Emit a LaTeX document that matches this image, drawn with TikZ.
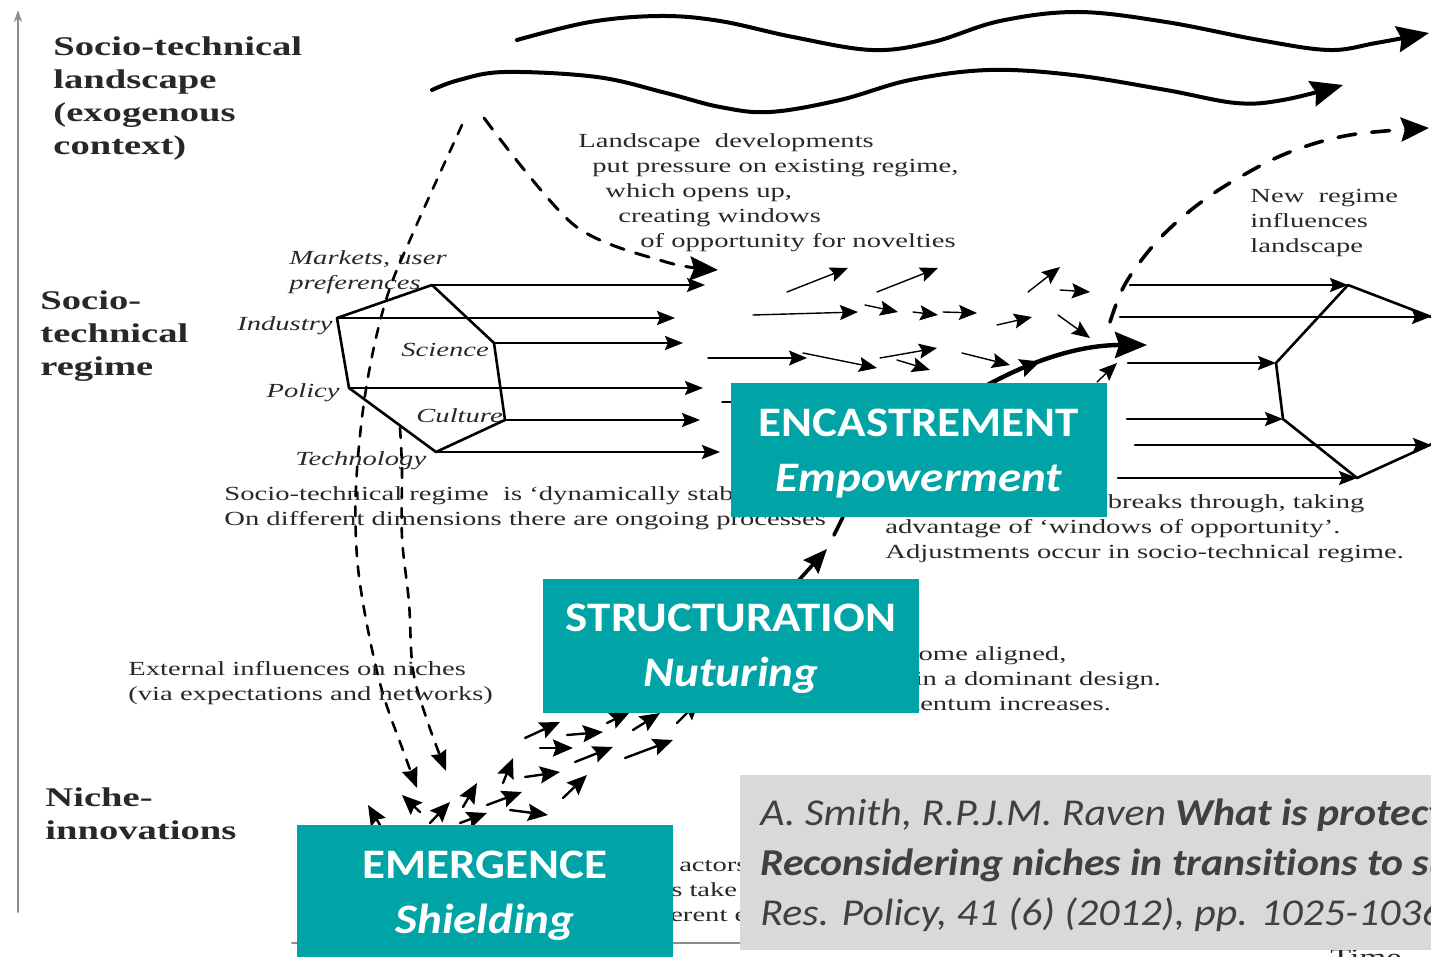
\documentclass[tikz,border=0pt]{standalone}
\usepackage{fontspec}
\setmainfont{Liberation Serif}
\newfontfamily\figfont[FakeStretch=1.43]{Liberation Serif}
\newfontfamily\boxfont[FakeStretch=1.12,Ligatures=NoCommon]{Carlito}
\newfontfamily\citefont[FakeStretch=1.1,Ligatures=NoCommon]{Carlito}
\usetikzlibrary{arrows.meta,decorations.markings}

\definecolor{boxteal}{RGB}{0,164,166}
\definecolor{citegrey}{RGB}{217,217,217}
\definecolor{citetext}{RGB}{64,64,64}
\definecolor{figink}{RGB}{40,40,40}

\begin{document}
\begin{tikzpicture}[x=0.5pt, y=-0.5pt, line cap=round, line join=round,
  figtext/.style={inner sep=0pt, text=figink, align=left,
    font=\figfont\fontsize{10}{12.5}\selectfont},
  figitalic/.style={figtext, font=\figfont\itshape\fontsize{10}{12.5}\selectfont},
  levellabel/.style={inner sep=0pt, text=figink, align=left, anchor=north west,
    font=\figfont\bfseries\fontsize{13.5}{16.5}\selectfont},
  tealbox/.style={fill=boxteal, text=white, inner sep=0pt, align=center,
    minimum width=188pt, minimum height=67pt, text depth=0pt,
    font=\boxfont\bfseries\fontsize{21}{27.5}\selectfont},
  citebox/.style={fill=citegrey, text=citetext, inner xsep=10pt, align=left,
    minimum height=87.5pt, anchor=west, text depth=0pt,
    font=\citefont\fontsize{19}{25}\selectfont},
  axisline/.style={draw=black!45, line width=1pt},
  landwave/.style={line width=2pt, -{Stealth[length=16pt,width=13pt,inset=2pt]}},
  bigdash/.style={line width=1.5pt, dash pattern=on 7pt off 6pt,
    -{Stealth[length=14pt,width=12pt,inset=2pt]}},
  nichedash/.style={line width=1.3pt, dash pattern=on 5pt off 5pt,
    -{Stealth[length=10pt,width=8pt,inset=1pt]}},
  risedash/.style={line width=1.8pt, dash pattern=on 9pt off 8pt,
    -{Stealth[length=14pt,width=12pt,inset=2pt]}},
  regarrow/.style={line width=1.3pt, -{Stealth[length=9pt,width=7pt,inset=1.5pt]}},
  hexside/.style={line width=1.3pt},
  thinarrow/.style={line width=0.7pt, -{Stealth[length=9pt,width=7.5pt,inset=1.5pt]}},
  nichearrow/.style={line width=1.2pt, -{Stealth[length=10pt,width=8.5pt,inset=1.5pt]}},
]

% ---------------------------
% Frame of the picture
% ---------------------------
\useasboundingbox (0,0) rectangle (1431,957);
\clip (0,0) rectangle (1431,957);

% ---------------------------
% Axes
% ---------------------------
\coordinate (ybot) at (18,912);
\coordinate (ytop) at (18,10);
\draw[axisline, -{Stealth[length=6pt,width=4pt]}] (ybot) -- (ytop);

\coordinate (xbot) at (292,943);
\coordinate (xend) at (1000,943);
\draw[axisline] (xbot) -- (xend);

\node[figtext, anchor=base west, font=\figfont\fontsize{12}{14}\selectfont] (timelab) at (1330,965) {Time};

% ---------------------------
% Level labels on the left
% ---------------------------
\node[levellabel] (landlab) at (53,36) {Socio-technical\\landscape\\(exogenous\\context)};
\node[levellabel] (reglab) at (40,290) {Socio-\\technical\\regime};
\node[levellabel] (nichelab) at (45,787) {Niche-\\innovations};

% ---------------------------
% Landscape waves
% ---------------------------
\draw[landwave] plot[smooth, tension=0.6] coordinates {(517,40) (590,22) (660,16) (720,21) (793,37) (872,50) (933,42) (1000,21) (1078,12) (1166,22) (1259,40) (1329,50) (1376,43) (1429,33)};
\draw[landwave] plot[smooth, tension=0.6] coordinates {(432,90) (459,80) (505,72) (597,77) (666,93) (720,107) (770,112) (840,100) (910,80) (989,70) (1073,75) (1166,90) (1236,103) (1283,100) (1343,85)};

% landscape pressure on the regime
\draw[bigdash] plot[smooth, tension=0.5] coordinates {(484,118) (574,225) (666,262) (718,270)};

\node[figtext, anchor=west] (presstxt) at (578,193) {Landscape\ \ developments\\
  \hspace*{7pt}put pressure on existing regime,\\
  \hspace*{13.5pt}which opens up,\\
  \hspace*{20pt}creating windows\\
  \hspace*{31pt}of opportunity for novelties};

% ---------------------------
% Existing regime (left hexagon)
% ---------------------------
\coordinate (mark) at (432,285);
\coordinate (indu) at (337,318);
\coordinate (scie) at (494,343);
\coordinate (poli) at (349,388);
\coordinate (cult) at (505,420);
\coordinate (tech) at (436,452);
\draw[hexside] (mark) -- (indu) -- (poli) -- (tech) -- (cult) -- (scie) -- cycle;

\coordinate (markend) at (705,285);
\coordinate (induend) at (675,318);
\coordinate (scieend) at (683,343);
\coordinate (poliend) at (703,388);
\coordinate (cultend) at (700,420);
\coordinate (techend) at (720,452);
\draw[regarrow] (mark) -- (markend);
\draw[regarrow] (indu) -- (induend);
\draw[regarrow] (scie) -- (scieend);
\draw[regarrow] (poli) -- (poliend);
\draw[regarrow] (cult) -- (cultend);
\draw[regarrow] (tech) -- (techend);

\node[figitalic, anchor=west] (marklab) at (289,272) {Markets, user\\preferences};
\node[figitalic, anchor=east] (indulab) at (333,326) {Industry};
\node[figitalic, anchor=west] (scielab) at (401,350) {Science};
\node[figitalic, anchor=east] (polilab) at (340,393) {Policy};
\node[figitalic, anchor=west] (cultlab) at (416,416) {Culture};
\node[figitalic, anchor=west] (techlab) at (295,461) {Technology};

\node[figtext, anchor=west] (stabtxt) at (224,508) {Socio-technical regime\ \ is ‘dynamically stable’.\\On different dimensions there are ongoing processes};

% ---------------------------
% External influences down to the niches
% ---------------------------
\draw[nichedash] plot[smooth, tension=0.6] coordinates {(462,125) (413,233) (386,300) (367,383) (357,470) (356,540) (363,603) (381,687) (404,753) (417,788)};
\draw[nichedash] plot[smooth, tension=0.6] coordinates {(400,428) (402,470) (402,537) (409,603) (413,670) (427,720) (446,771)};

\node[figtext, anchor=west] (exttxt) at (128,683) {External influences on niches\\(via expectations and networks)};

% ---------------------------
% Small arrows between the regimes
% ---------------------------
\draw[thinarrow] (787,292) -- (848,268);
\draw[thinarrow] (877,292) -- (938,268);
\draw[thinarrow] (1028,292) -- (1060,267);
\draw[thinarrow] (1060,290) -- (1090,292);
\draw[thinarrow] (753,315) -- (858,312);
\draw[thinarrow] (865,305) -- (898,312);
\draw[thinarrow] (913,312) -- (938,315);
\draw[thinarrow] (943,312) -- (977,313);
\draw[thinarrow] (997,325) -- (1032,317);
\draw[thinarrow] (1058,315) -- (1090,338);
\draw[thinarrow] (708,358) -- (807,358);
\draw[thinarrow] (803,353) -- (877,368);
\draw[thinarrow] (880,358) -- (937,348);
\draw[thinarrow] (897,360) -- (930,370);
\draw[thinarrow] (962,353) -- (1010,365);
\draw[thinarrow] (1097,382) -- (1117,363);
\draw[line width=0.7pt] (722,402) -- (745,402);

% ---------------------------
% Niche arrows
% ---------------------------
\draw[nichearrow] (380,825) -- (368,805);
\draw[nichearrow] (420,812) -- (402,795);
\draw[nichearrow] (430,823) -- (450,802);
\draw[nichearrow] (460,823) -- (487,813);
\draw[nichearrow] (463,807) -- (477,783);
\draw[nichearrow] (487,805) -- (522,792);
\draw[nichearrow] (503,783) -- (513,758);
\draw[nichearrow] (510,810) -- (548,815);
\draw[nichearrow] (525,777) -- (560,772);
\draw[nichearrow] (563,798) -- (587,775);
\draw[nichearrow] (540,748) -- (573,748);
\draw[nichearrow] (575,762) -- (613,747);
\draw[nichearrow] (525,738) -- (560,722);
\draw[nichearrow] (567,735) -- (603,732);
\draw[nichearrow] (625,758) -- (673,740);
\draw[nichearrow] (607,723) -- (630,712);
\draw[nichearrow] (633,730) -- (660,713);
\draw[nichearrow] (677,723) -- (700,700);

\node[figtext, anchor=west] (nichetxt) at (462,890) {Small networks of actors support novelties on the basis of expectations and visions.\\Learning processes take place on multiple dimensions (co-construction).\\Efforts to link different elements in a seamless web.};

\node[figtext, anchor=west] (aligntxt) at (765,679) {Elements become aligned,\\and stabilise in a dominant design.\\Internal momentum increases.};

% ---------------------------
% Breakthrough of the novelty
% ---------------------------
\coordinate (brkfoot) at (790,590);
\coordinate (brkmid) at (827,549);
\draw[line width=1.8pt, -{Stealth[length=12pt,width=10pt,inset=1.5pt]}] (brkfoot) -- (brkmid);
\draw[line width=1.8pt] (834,535) -- (843,517);

\coordinate (brkA) at (975,392);
\coordinate (brkB) at (1147,345);
\draw[line width=2.2pt, -{Stealth[length=16pt,width=13pt,inset=2pt]},
  postaction={decorate},
  decoration={markings,
    mark=at position 0.4 with {\arrow{Stealth[length=10pt,width=9pt,inset=1.5pt]}}}
] (brkA) .. controls (1030,360) and (1080,345) .. (brkB);

\node[figtext, anchor=west] (brktxt) at (885,529) {New configuration breaks through, taking\\advantage of ‘windows of opportunity’.\\Adjustments occur in socio-technical regime.};

% ---------------------------
% New regime (right hexagon) and its pull on the landscape
% ---------------------------
\draw[risedash] plot[smooth, tension=0.6] coordinates {(1110,322) (1122,290) (1140,262) (1165,233) (1200,203) (1240,177) (1290,152) (1350,135) (1429,128)};

\node[figtext, anchor=west] (newtxt) at (1250,223) {New\ \ regime\\influences\\landscape};

\coordinate (nA) at (1348,285);
\coordinate (nB) at (1434,318);
\coordinate (nF) at (1434,443);
\coordinate (nE) at (1357,478);
\coordinate (nD) at (1283,419);
\coordinate (nC) at (1276,363);
\draw[hexside] (nA) -- (nB) -- (nF) -- (nE) -- (nD) -- (nC) -- cycle;

\coordinate (r1) at (1130,285);
\coordinate (r2) at (1120,317);
\coordinate (r3) at (1128,363);
\coordinate (r4) at (1127,419);
\coordinate (r5) at (1135,445);
\coordinate (r6) at (1118,478);
\coordinate (r2end) at (1430,317);
\coordinate (r5end) at (1431,445);
\draw[regarrow] (r1) -- (nA);
\draw[regarrow] (r2) -- (r2end);
\draw[regarrow] (r3) -- (nC);
\draw[regarrow] (r4) -- (nD);
\draw[regarrow] (r5) -- (r5end);
\draw[regarrow] (r6) -- (nE);

% ---------------------------
% Overlay boxes
% ---------------------------
\node[tealbox] (encast) at (919,450) {ENCASTREMENT\\\itshape Empowerment};
\node[tealbox] (struct) at (731,645.5) {STRUCTURATION\\\itshape Nuturing};
\node[tealbox] (emerge) at (485,892) {EMERGENCE\\\itshape Shielding};

\node[citebox] (cite) at (740,862.5) {\itshape A. Smith, R.P.J.M. Raven \bfseries What is protective space?\\
  \bfseries\itshape Reconsidering niches in transitions to sustainability\\
  \itshape Res. Policy, 41 (6) (2012), pp. 1025-1036};

\end{tikzpicture}
\end{document}
